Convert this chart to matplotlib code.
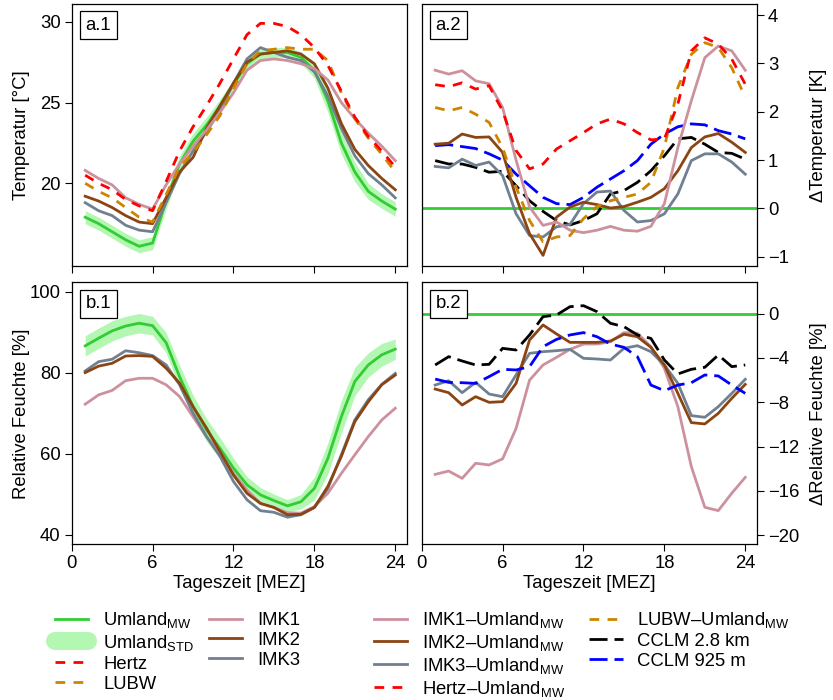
import numpy as np
import matplotlib
matplotlib.use('Agg')
import matplotlib.pyplot as plt
from matplotlib.lines import Line2D

plt.rcParams['font.family'] = ['Liberation Sans', 'DejaVu Sans']
plt.rcParams['mathtext.fontset'] = 'custom'
plt.rcParams['mathtext.rm'] = 'Liberation Sans'
plt.rcParams['mathtext.it'] = 'Liberation Sans:italic'
plt.rcParams['mathtext.bf'] = 'Liberation Sans:bold'
plt.rcParams['font.size'] = 13.3

hours = np.arange(1, 25)
xticks = [0, 6, 12, 18, 24]

# ---- Temperature (a.1) ----
t_umland = [17.9, 17.5, 17.0, 16.5, 16.1, 16.3, 18.9, 21.2, 22.6, 23.6, 24.8, 26.1,
            27.4, 28.0, 28.1, 28.1, 27.8, 27.0, 25.1, 22.5, 20.7, 19.5, 18.9, 18.4]
t_std = [0.4, 0.4, 0.4, 0.4, 0.4, 0.4, 0.5, 0.5, 0.5, 0.5, 0.4, 0.35,
         0.3, 0.3, 0.3, 0.3, 0.35, 0.5, 0.7, 0.7, 0.6, 0.5, 0.45, 0.45]
t_hertz = [20.5, 20.0, 19.6, 19.0, 18.6, 18.3, 20.1, 22.0, 23.5, 24.8, 26.2, 27.7,
           29.2, 29.9, 29.9, 29.7, 29.2, 28.4, 27.3, 25.7, 24.1, 22.9, 22.0, 21.0]
t_lubw = [20.0, 19.5, 19.1, 18.5, 17.9, 17.6, 19.3, 21.0, 21.9, 23.0, 24.2, 25.9,
          27.4, 28.2, 28.3, 28.4, 28.3, 28.3, 27.6, 25.6, 24.0, 22.8, 21.8, 20.7]
t_imk1 = [20.8, 20.3, 19.9, 19.1, 18.7, 18.4, 19.9, 21.2, 22.3, 23.3, 24.4, 25.6,
          27.0, 27.6, 27.7, 27.6, 27.4, 27.1, 26.4, 25.0, 24.0, 23.1, 22.3, 21.4]
t_imk2 = [19.2, 18.9, 18.5, 18.0, 17.6, 17.5, 19.1, 20.7, 21.6, 23.4, 24.8, 26.2,
          27.5, 28.0, 28.1, 28.2, 28.0, 27.4, 25.9, 23.7, 22.1, 21.1, 20.3, 19.6]
t_imk3 = [18.8, 18.3, 18.0, 17.4, 17.1, 17.0, 18.8, 20.6, 22.0, 23.2, 24.5, 26.2,
          27.7, 28.4, 28.1, 27.8, 27.6, 26.9, 25.4, 23.4, 21.7, 20.6, 19.9, 19.1]

# ---- Temperature differences (a.2) ----
dt_imk1 = [2.86, 2.78, 2.85, 2.64, 2.58, 2.09, 1.0, 0.03, -0.35, -0.28, -0.45, -0.5,
           -0.45, -0.37, -0.45, -0.47, -0.37, 0.1, 1.26, 2.23, 3.12, 3.36, 3.26, 2.86]
dt_imk2 = [1.33, 1.35, 1.54, 1.47, 1.48, 1.16, 0.23, -0.52, -0.97, -0.18, 0.03, 0.13,
           0.08, 0.01, 0.04, 0.13, 0.23, 0.41, 0.78, 1.26, 1.48, 1.55, 1.37, 1.16]
dt_imk3 = [0.87, 0.84, 1.02, 0.89, 0.96, 0.68, -0.11, -0.56, -0.59, -0.38, -0.33, 0.1,
           0.34, 0.36, -0.04, -0.28, -0.25, -0.11, 0.3, 0.99, 1.13, 1.13, 0.96, 0.71]
dt_hertz = [2.56, 2.52, 2.6, 2.47, 2.54, 2.02, 1.2, 0.82, 0.92, 1.23, 1.4, 1.57,
            1.75, 1.85, 1.75, 1.57, 1.42, 1.44, 2.16, 3.26, 3.53, 3.4, 3.09, 2.57]
dt_lubw = [2.09, 2.02, 2.09, 1.95, 1.78, 1.26, 0.44, -0.25, -0.69, -0.59, -0.56, -0.21,
           0.04, 0.16, 0.23, 0.3, 0.54, 1.26, 2.5, 3.19, 3.43, 3.33, 2.91, 2.3]
dt_cclm28 = [0.99, 0.92, 0.92, 0.85, 0.75, 0.77, 0.47, 0.16, -0.06, -0.25, -0.34, -0.25,
             -0.11, 0.3, 0.37, 0.54, 0.78, 1.09, 1.44, 1.47, 1.33, 1.16, 1.14, 1.02]
dt_cclm925 = [1.3, 1.32, 1.28, 1.24, 1.13, 1.0, 0.71, 0.47, 0.23, 0.1, 0.08, 0.23,
              0.44, 0.61, 0.78, 0.99, 1.33, 1.54, 1.69, 1.75, 1.73, 1.61, 1.54, 1.44]

# ---- Relative humidity (b.1) ----
rh_umland = [86.6, 88.5, 90.3, 91.5, 92.2, 91.6, 87.4, 79.0, 71.6, 65.8, 61.3, 56.4,
             52.3, 49.8, 48.4, 47.1, 48.1, 51.4, 58.8, 69.1, 77.8, 81.9, 84.4, 85.8]
rh_std = [2.5, 2.5, 2.5, 2.4, 2.4, 2.3, 2.5, 2.8, 2.8, 2.8, 2.6, 2.4,
          2.0, 1.8, 1.6, 1.5, 1.8, 2.8, 3.8, 4.0, 3.5, 3.0, 2.8, 2.5]
rh_imk1 = [72.2, 74.5, 75.6, 78.0, 78.6, 78.6, 77.0, 74.1, 69.1, 64.2, 60.5, 55.1,
           51.0, 47.7, 46.7, 45.4, 45.3, 46.9, 50.2, 55.1, 59.7, 64.2, 68.3, 71.2]
rh_imk2 = [80.0, 81.6, 82.3, 84.1, 84.2, 84.0, 81.1, 77.4, 71.6, 66.3, 60.5, 54.7,
           50.2, 47.7, 46.7, 44.9, 45.0, 46.7, 51.9, 59.3, 67.9, 72.8, 77.0, 79.4]
rh_imk3 = [80.4, 82.7, 83.3, 85.4, 84.9, 84.2, 81.9, 77.0, 70.0, 64.2, 59.3, 53.1,
           48.6, 45.9, 45.5, 44.3, 44.9, 46.7, 51.4, 59.7, 68.3, 73.3, 77.1, 79.8]

# ---- Relative humidity differences (b.2) ----
drh_imk1 = [-14.5, -14.2, -14.86, -13.5, -13.65, -13.1, -10.35, -6.0, -4.63, -3.94, -3.22, -2.74,
            -2.74, -2.53, -1.71, -1.77, -2.98, -4.93, -8.39, -13.8, -17.47, -17.77, -16.2, -14.77]
drh_imk2 = [-6.8, -7.13, -8.24, -7.49, -8.0, -7.94, -6.29, -2.38, -1.02, -1.83, -2.59, -2.59,
            -2.59, -2.47, -1.86, -2.08, -3.04, -4.63, -7.19, -9.83, -9.95, -8.99, -7.64, -6.38]
drh_imk3 = [-6.44, -6.05, -7.13, -6.2, -7.25, -7.49, -5.53, -3.58, -3.43, -3.34, -3.22, -4.03,
            -4.09, -4.18, -3.13, -2.89, -3.43, -4.63, -6.29, -9.2, -9.35, -8.39, -7.19, -5.92]
drh_cclm28 = [-4.63, -3.88, -4.27, -4.63, -4.57, -3.13, -3.28, -1.92, -0.27, -0.12, 0.63, 0.72,
              0.18, -0.87, -1.17, -1.92, -2.23, -4.18, -5.44, -5.02, -4.84, -3.73, -4.78, -4.63]
drh_cclm925 = [-5.9, -6.2, -6.23, -6.29, -5.68, -5.02, -5.08, -4.78, -2.98, -2.32, -1.92, -1.71,
               -2.08, -2.74, -3.04, -3.88, -6.44, -6.95, -6.44, -6.23, -5.53, -5.62, -6.44, -7.19]

# colours / styles
C_GREEN = '#32CD32'
C_BAND = '#b3f7b3'
C_RED = '#FF0000'
C_ORANGE = '#CD8500'
C_PINK = '#CD919E'
C_BROWN = '#8B4513'
C_GRAY = '#708090'
LW = 2.0
SHORT = (0, (3.5, 3.0))
LONG = (0, (6.5, 2.5))

fig = plt.figure(figsize=(8.33, 7.0), dpi=100)
W, H = 833.0, 700.0
def pos(l, t, r, b):
    return [l / W, 1 - b / H, (r - l) / W, (b - t) / H]

ax_a1 = fig.add_axes(pos(71.7, 4, 407, 266))
ax_a2 = fig.add_axes(pos(421.7, 4, 757, 266))
ax_b1 = fig.add_axes(pos(71.7, 282.3, 407, 544.3))
ax_b2 = fig.add_axes(pos(421.7, 282.3, 757, 544.3))

def style(ax, right=False, xlabels=True):
    ax.set_xlim(0, 24.87)
    ax.set_xticks(xticks)
    ax.tick_params(direction='out', length=5, width=0.8, labelsize=13.3, pad=3)
    for s in ax.spines.values():
        s.set_linewidth(0.9)
    if not xlabels:
        ax.tick_params(axis='x', labelbottom=False)
    if right:
        ax.yaxis.tick_right()
        ax.yaxis.set_label_position('right')

def panel_label(ax, txt):
    ax.annotate(txt, xy=(0, 1), xycoords='axes fraction', xytext=(10.0, -9.2),
                textcoords='offset points', ha='left', va='top', fontsize=13.3,
                bbox=dict(boxstyle='square,pad=0.3', fc='white', ec='black', lw=0.9),
                zorder=10)

# a.1
ax = ax_a1
lo = np.array(t_umland) - np.array(t_std)
hi = np.array(t_umland) + np.array(t_std)
ax.fill_between(hours, lo, hi, color=C_BAND, lw=0)
ax.plot(hours, t_umland, color=C_GREEN, lw=LW)
ax.plot(hours, t_imk3, color=C_GRAY, lw=LW)
ax.plot(hours, t_imk2, color=C_BROWN, lw=LW)
ax.plot(hours, t_imk1, color=C_PINK, lw=LW)
ax.plot(hours, t_lubw, color=C_ORANGE, lw=LW, ls=SHORT)
ax.plot(hours, t_hertz, color=C_RED, lw=LW, ls=SHORT)
ax.set_ylim(14.88, 31.1)
ax.set_yticks([20, 25, 30])
style(ax, xlabels=False)
ax.set_ylabel('Temperatur [°C]')
ax.yaxis.set_label_coords(-0.125, 0.5)
panel_label(ax, 'a.1')

# a.2
ax = ax_a2
ax.axhline(0, color=C_GREEN, lw=LW)
ax.plot(hours, dt_cclm28, color='black', lw=LW, ls=LONG)
ax.plot(hours, dt_cclm925, color='blue', lw=LW, ls=LONG)
ax.plot(hours, dt_imk3, color=C_GRAY, lw=LW)
ax.plot(hours, dt_imk2, color=C_BROWN, lw=LW)
ax.plot(hours, dt_imk1, color=C_PINK, lw=LW)
ax.plot(hours, dt_lubw, color=C_ORANGE, lw=LW, ls=SHORT)
ax.plot(hours, dt_hertz, color=C_RED, lw=LW, ls=SHORT)
ax.set_ylim(-1.19, 4.23)
ax.set_yticks([-1, 0, 1, 2, 3, 4])
style(ax, right=True, xlabels=False)
ax.set_ylabel('ΔTemperatur [K]')
ax.yaxis.set_label_coords(1.158, 0.5)
panel_label(ax, 'a.2')

# b.1
ax = ax_b1
lo = np.array(rh_umland) - np.array(rh_std)
hi = np.array(rh_umland) + np.array(rh_std)
ax.fill_between(hours, lo, hi, color=C_BAND, lw=0)
ax.plot(hours, rh_umland, color=C_GREEN, lw=LW)
ax.plot(hours, rh_imk1, color=C_PINK, lw=LW)
ax.plot(hours, rh_imk3, color=C_GRAY, lw=LW)
ax.plot(hours, rh_imk2, color=C_BROWN, lw=LW)
ax.set_ylim(37.6, 102.3)
ax.set_yticks([40, 60, 80, 100])
style(ax)
ax.set_ylabel('Relative Feuchte [%]')
ax.yaxis.set_label_coords(-0.125, 0.5)
ax.set_xlabel('Tageszeit [MEZ]', labelpad=2)
panel_label(ax, 'b.1')

# b.2
ax = ax_b2
ax.axhline(0, color=C_GREEN, lw=LW)
ax.plot(hours, drh_imk1, color=C_PINK, lw=LW)
ax.plot(hours, drh_imk3, color=C_GRAY, lw=LW)
ax.plot(hours, drh_imk2, color=C_BROWN, lw=LW)
ax.plot(hours, drh_cclm28, color='black', lw=LW, ls=LONG)
ax.plot(hours, drh_cclm925, color='blue', lw=LW, ls=LONG)
ax.set_ylim(-20.81, 2.83)
ax.set_yticks([0, -4, -8, -12, -16, -20])
style(ax, right=True)
ax.set_ylabel('ΔRelative Feuchte [%]')
ax.yaxis.set_label_coords(1.158, 0.5)
ax.set_xlabel('Tageszeit [MEZ]', labelpad=2)
panel_label(ax, 'b.2')

# legends
MW = '$_{\\mathrm{MW}}$'
STD = '$_{\\mathrm{STD}}$'
h_left = [
    Line2D([], [], color=C_GREEN, lw=LW),
    Line2D([], [], color=C_BAND, lw=13, solid_capstyle='round'),
    Line2D([], [], color=C_RED, lw=LW, ls=SHORT),
    Line2D([], [], color=C_ORANGE, lw=LW, ls=SHORT),
    Line2D([], [], color=C_PINK, lw=LW),
    Line2D([], [], color=C_BROWN, lw=LW),
    Line2D([], [], color=C_GRAY, lw=LW),
]
l_left = ['Umland' + MW, 'Umland' + STD, 'Hertz', 'LUBW', 'IMK1', 'IMK2', 'IMK3']
leg1 = fig.legend(h_left, l_left, loc='upper left', bbox_to_anchor=(55 / W, 1 - 610 / H),
                  ncol=2, frameon=False, borderpad=0, borderaxespad=0,
                  handlelength=1.8, handletextpad=0.8, columnspacing=0.8,
                  labelspacing=0.16, fontsize=13.3)

h_right = [
    Line2D([], [], color=C_PINK, lw=LW),
    Line2D([], [], color=C_BROWN, lw=LW),
    Line2D([], [], color=C_GRAY, lw=LW),
    Line2D([], [], color=C_RED, lw=LW, ls=SHORT),
    Line2D([], [], color=C_ORANGE, lw=LW, ls=SHORT),
    Line2D([], [], color='black', lw=LW, ls=LONG),
    Line2D([], [], color='blue', lw=LW, ls=LONG),
]
l_right = ['IMK1–Umland' + MW, 'IMK2–Umland' + MW, 'IMK3–Umland' + MW,
           'Hertz–Umland' + MW, 'LUBW–Umland' + MW, 'CCLM 2.8 km', 'CCLM 925 m']
leg2 = fig.legend(h_right, l_right, loc='upper left', bbox_to_anchor=(374 / W, 1 - 610 / H),
                  ncol=2, frameon=False, borderpad=0, borderaxespad=0,
                  handlelength=1.8, handletextpad=0.8, columnspacing=1.3,
                  labelspacing=0.16, fontsize=13.3)

fig.savefig('out.png', dpi=100)
